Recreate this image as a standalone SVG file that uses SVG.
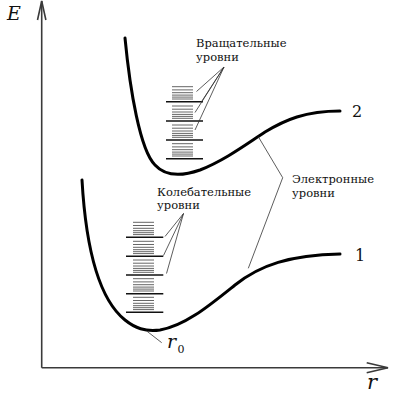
<svg xmlns="http://www.w3.org/2000/svg" width="396" height="395" viewBox="0 0 396 395">
<style>
.axis{stroke:#3a3a3a;stroke-width:1.6;fill:none}
.curve{stroke:#000;stroke-width:3;fill:none;stroke-linecap:round}
.lead{stroke:#333;stroke-width:0.8;fill:none}
.long{stroke:#111;stroke-width:1.6}
.short{stroke:#666;stroke-width:1}
text{font-family:'DejaVu Serif',serif;fill:#111}
.lbl{font-size:11.5px}
.num{font-size:16px}
.var{font-style:italic}
</style>
<defs>
<g id="rot">
<line class="short" x1="0" x2="21" y1="-2.7" y2="-2.7"/>
<line class="short" x1="0" x2="21" y1="-4.6" y2="-4.6"/>
<line class="short" x1="0" x2="21" y1="-6.6" y2="-6.6"/>
<line class="short" x1="0" x2="21" y1="-9" y2="-9"/>
<line class="short" x1="0" x2="21" y1="-11.8" y2="-11.8"/>
<line class="short" x1="0" x2="21" y1="-15" y2="-15"/>
</g>
</defs>
<g id="axes">
<line class="axis" x1="41.7" y1="1" x2="41.7" y2="367.7"/>
<polyline class="axis" points="37.5,20 41.7,1 45.9,20"/>
<line class="axis" x1="41.7" y1="367.7" x2="388" y2="367.7"/>
<polyline class="axis" points="366.7,362.7 388,367.7 366.7,372.7"/>
<text class="var" x="7" y="20" font-size="19">E</text>
<text class="var" x="367" y="389" font-size="21">r</text>
</g>
<g id="curve2">
<path class="curve" d="M125,38 C130,90 140,150 155,165 C165,176 180,177 200,170 C225,160 245,145 265,132 C285,120 305,111 340,111"/>
<text class="num" x="352" y="117">2</text>
</g>
<g id="curve1">
<path class="curve" d="M82,180 C86,250 100,300 125,320 C135,328 145,332 160,330 C185,326 210,305 235,285 C260,265 290,255 340,254"/>
<text class="num" x="355" y="261">1</text>
</g>
<g id="r0">
<line class="lead" x1="146.7" y1="331" x2="161.7" y2="342.7"/>
<text class="var" x="167" y="348" font-size="19">r</text>
<text x="177.5" y="353" font-size="11">0</text>
</g>
<g id="rot-levels">
<use href="#rot" x="172" y="101.7"/>
<use href="#rot" x="172" y="121"/>
<use href="#rot" x="172" y="140"/>
<use href="#rot" x="172" y="158.7"/>
<line class="long" x1="166" x2="203" y1="101.7" y2="101.7"/>
<line class="long" x1="166" x2="203" y1="121" y2="121"/>
<line class="long" x1="166" x2="203" y1="140" y2="140"/>
<line class="long" x1="166" x2="203" y1="158.7" y2="158.7"/>
<text class="lbl" x="196" y="47">Вращательные</text>
<text class="lbl" x="196" y="60.5">уровни</text>
</g>
<g id="vib-levels">
<use href="#rot" x="133" y="237.3"/>
<use href="#rot" x="133" y="256.3"/>
<use href="#rot" x="133" y="275"/>
<use href="#rot" x="133" y="293.7"/>
<use href="#rot" x="133" y="312.3"/>
<line class="long" x1="126" x2="163.3" y1="237.3" y2="237.3"/>
<line class="long" x1="126" x2="163.3" y1="256.3" y2="256.3"/>
<line class="long" x1="126" x2="163.3" y1="275" y2="275"/>
<line class="long" x1="126" x2="163.3" y1="293.7" y2="293.7"/>
<line class="long" x1="126" x2="163.3" y1="312.3" y2="312.3"/>
<text class="lbl" x="157" y="195.5">Колебательные</text>
<text class="lbl" x="157" y="209">уровни</text>
</g>
<g id="electronic">
<text class="lbl" x="292" y="182.5">Электронные</text>
<text class="lbl" x="292" y="197">уровни</text>
</g>
<g id="connectors">
<line class="lead" x1="224" y1="67" x2="196.5" y2="91.5"/>
<line class="lead" x1="224" y1="67" x2="201.5" y2="101.7"/>
<line class="lead" x1="224" y1="67" x2="195" y2="112.5"/>
<line class="lead" x1="224" y1="67" x2="195" y2="130"/>
<line class="lead" x1="183.5" y1="213.5" x2="165" y2="236.5"/>
<line class="lead" x1="183.5" y1="213.5" x2="163.5" y2="255.5"/>
<line class="lead" x1="183.5" y1="213.5" x2="166.5" y2="273.5"/>
<line class="lead" x1="282.7" y1="177.7" x2="258.3" y2="136.7"/>
<line class="lead" x1="282.7" y1="177.7" x2="248.3" y2="268.3"/>
</g>
</svg>
